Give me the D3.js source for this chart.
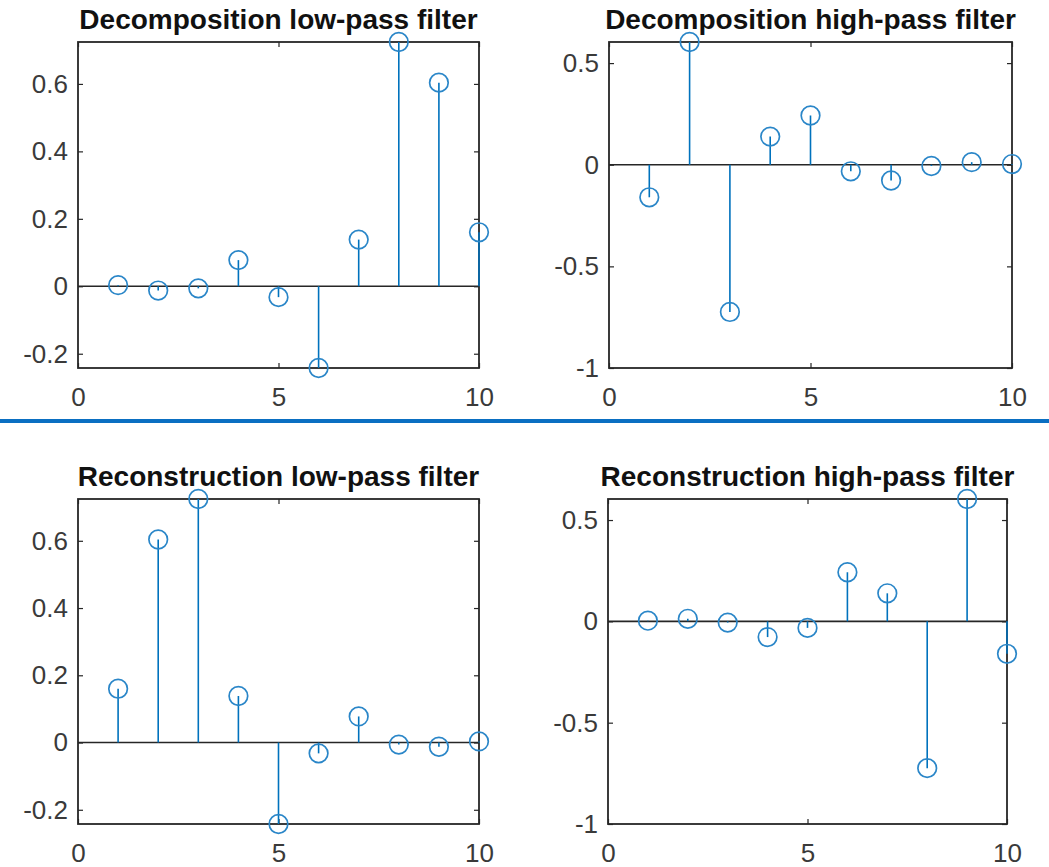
<!DOCTYPE html>
<html>
<head>
<meta charset="utf-8">
<script src="https://cdn.jsdelivr.net/npm/d3@7"></script>
<style>
  body { margin: 0; background: #fff; }
  text { font-family: "Liberation Sans", Arial, Helvetica, sans-serif; }
</style>
</head>
<body>
<div id="screen"></div>
<script>
var width = 1049;
var height = 867;

// sample index 1..10
var taps = [1, 2, 3, 4, 5, 6, 7, 8, 9, 10];

// filter coefficients
var loD = [0.0033, -0.0126, -0.0062, 0.0776, -0.0322, -0.2423, 0.1384, 0.7243, 0.6038, 0.1601];
var hiD = [-0.1601, 0.6038, -0.7243, 0.1384, 0.2423, -0.0322, -0.0776, -0.0062, 0.0126, 0.0033];
var loR = [0.1601, 0.6038, 0.7243, 0.1384, -0.2423, -0.0322, 0.0776, -0.0062, -0.0126, 0.0033];
var hiR = [0.0033, 0.0126, -0.0062, -0.0776, -0.0322, 0.2423, 0.1384, -0.7243, 0.6038, -0.1601];

var titles = ["Decomposition low-pass filter", "Decomposition high-pass filter",
	"Reconstruction low-pass filter", "Reconstruction high-pass filter"];

var xTicks = [0, 5, 10];
var lowTicks = [-0.2, 0, 0.2, 0.4, 0.6];
var highTicks = [-1, -0.5, 0, 0.5];
var lowRange = [-0.2423, 0.7243];
var highRange = [-1, 0.6038];

var blue = "#0072BD";
var axisColor = "#262626";
var labelColor = "#3a3a3a";

var panels = [
	{title: titles[0], values: loD, yDom: lowRange, yTicks: lowTicks, left: 78, right: 479, top: 42, bottom: 368},
	{title: titles[1], values: hiD, yDom: highRange, yTicks: highTicks, left: 609, right: 1012, top: 42, bottom: 368},
	{title: titles[2], values: loR, yDom: lowRange, yTicks: lowTicks, left: 78, right: 479, top: 499, bottom: 824},
	{title: titles[3], values: hiR, yDom: highRange, yTicks: highTicks, left: 608, right: 1007, top: 499, bottom: 824}
];

// plain hyphen for negatives, like the original
function fmt(d) { return String(d); }

var screen = d3.select("#screen")
	.append("svg")
	.attr("width", width)
	.attr("height", height);

// divider between the two rows
screen.append("rect")
	.attr("x", 0)
	.attr("y", 419)
	.attr("width", width)
	.attr("height", 4)
	.attr("fill", "#0a6fc2");

panels.forEach(function(p) {
	var g = screen.append("g");

	var x = d3.scaleLinear().domain([0, 10]).range([p.left, p.right]);
	var y = d3.scaleLinear().domain(p.yDom).range([p.bottom, p.top]);

	// x axis labels + inward ticks on top and bottom
	g.append("g")
		.attr("transform", "translate(0," + p.bottom + ")")
		.call(d3.axisBottom(x).tickValues(xTicks).tickSizeInner(-5).tickSizeOuter(0).tickPadding(20).tickFormat(fmt))
		.call(function(a) {
			a.select(".domain").remove();
			a.selectAll("line").attr("stroke", axisColor).attr("stroke-width", 1.2);
			a.selectAll("text").attr("font-size", 26).attr("fill", labelColor)
				.attr("font-family", "Liberation Sans, Arial, sans-serif");
		});
	g.append("g")
		.attr("transform", "translate(0," + p.top + ")")
		.call(d3.axisTop(x).tickValues(xTicks).tickSizeInner(-5).tickSizeOuter(0).tickFormat(""))
		.call(function(a) {
			a.select(".domain").remove();
			a.selectAll("line").attr("stroke", axisColor).attr("stroke-width", 1.2);
		});

	// y axis labels + inward ticks on left and right
	g.append("g")
		.attr("transform", "translate(" + p.left + ",0)")
		.call(d3.axisLeft(y).tickValues(p.yTicks).tickSizeInner(-5).tickSizeOuter(0).tickPadding(10).tickFormat(fmt))
		.call(function(a) {
			a.select(".domain").remove();
			a.selectAll("line").attr("stroke", axisColor).attr("stroke-width", 1.2);
			a.selectAll("text").attr("font-size", 26).attr("fill", labelColor)
				.attr("font-family", "Liberation Sans, Arial, sans-serif");
		});
	g.append("g")
		.attr("transform", "translate(" + p.right + ",0)")
		.call(d3.axisRight(y).tickValues(p.yTicks).tickSizeInner(-5).tickSizeOuter(0).tickFormat(""))
		.call(function(a) {
			a.select(".domain").remove();
			a.selectAll("line").attr("stroke", axisColor).attr("stroke-width", 1.2);
		});

	// zero baseline
	g.append("line")
		.attr("x1", p.left)
		.attr("x2", p.right)
		.attr("y1", y(0))
		.attr("y2", y(0))
		.attr("stroke", axisColor)
		.attr("stroke-width", 1.6);

	// box
	g.append("rect")
		.attr("x", p.left)
		.attr("y", p.top)
		.attr("width", p.right - p.left)
		.attr("height", p.bottom - p.top)
		.attr("fill", "none")
		.attr("stroke", axisColor)
		.attr("stroke-width", 1.8);

	var pts = taps.map(function(t, i) { return {n: t, v: p.values[i]}; });

	// stems
	g.selectAll(".stem")
		.data(pts)
		.enter()
		.append("line")
			.attr("class", "stem")
			.attr("x1", function(d) { return x(d.n); })
			.attr("x2", function(d) { return x(d.n); })
			.attr("y1", y(0))
			.attr("y2", function(d) { return y(d.v); })
			.attr("stroke", blue)
			.attr("stroke-width", 1.6);

	// circle markers
	g.selectAll(".mark")
		.data(pts)
		.enter()
		.append("circle")
			.attr("class", "mark")
			.attr("cx", function(d) { return x(d.n); })
			.attr("cy", function(d) { return y(d.v); })
			.attr("r", 9.3)
			.attr("fill", "none")
			.attr("stroke", "#2a86c8")
			.attr("stroke-width", 1.7);

	// title
	g.append("text")
		.attr("x", (p.left + p.right) / 2)
		.attr("y", p.top - 13)
		.attr("text-anchor", "middle")
		.attr("font-size", 28)
		.attr("font-weight", "bold")
		.attr("fill", "#111")
		.text(p.title);
});
</script>
</body>
</html>
